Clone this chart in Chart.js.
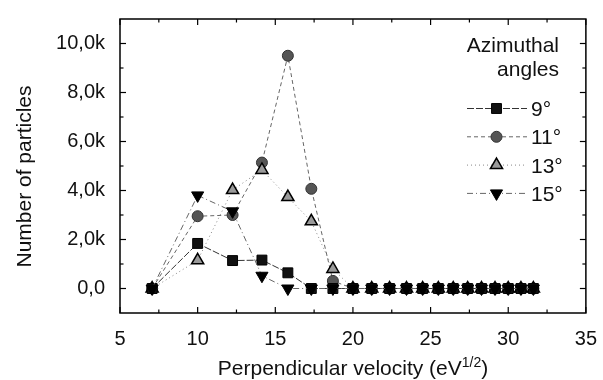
<!DOCTYPE html>
<html>
<head>
<meta charset="utf-8">
<script src="https://cdn.jsdelivr.net/npm/chart.js@4"></script>
<style>
  html, body { margin: 0; padding: 0; background: #fff; }
  #wrap { width: 603px; height: 380px; }
</style>
</head>
<body>
<div id="wrap"><canvas id="grafico" width="603" height="380"></canvas></div>
<script>
// Dados
const velocidades = [7.07, 10, 12.25, 14.14, 15.81, 17.32, 18.71, 20, 21.21, 22.36,
  23.45, 24.49, 25.5, 26.46, 27.39, 28.28, 29.15, 30, 30.82, 31.62];

const angulos = ['9°', '11°', '13°', '15°'];

const serie9  = [0, 1840, 1140, 1160, 640, 0, 0, 0, 0, 0, 0, 0, 0, 0, 0, 0, 0, 0, 0, 0];
const serie11 = [0, 2950, 3000, 5140, 9500, 4070, 310, 0, 0, 0, 0, 0, 0, 0, 0, 0, 0, 0, 0, 0];
const serie13 = [0, 1150, 4020, 4840, 3730, 2740, 800, 0, 0, 0, 0, 0, 0, 0, 0, 0, 0, 0, 0, 0];
const serie15 = [0, 3800, 3150, 520, 0, 0, 0, 0, 0, 0, 0, 0, 0, 0, 0, 0, 0, 0, 0, 0];

const xTicks = [5, 10, 15, 20, 25, 30, 35];
const yTicks = [0, 2000, 4000, 6000, 8000, 10000];
const yTickLabels = ['0,0', '2,0k', '4,0k', '6,0k', '8,0k', '10,0k'];

const FONTE = "'Liberation Sans', Arial, sans-serif";

function pontos(valores) {
  return valores.map((v, i) => ({ x: velocidades[i], y: v }));
}

// Moldura, marcas de escala, títulos e legenda
const molduraPlugin = {
  id: 'moldura',
  afterDraw(chart) {
    const ctx = chart.ctx;
    const a = chart.chartArea;
    const xs = chart.scales.x, ys = chart.scales.y;
    ctx.save();
    ctx.strokeStyle = '#000';
    ctx.lineWidth = 1.5;
    ctx.strokeRect(a.left, a.top, a.right - a.left, a.bottom - a.top);

    ctx.lineWidth = 1.2;
    const marca = (x1, y1, x2, y2) => { ctx.beginPath(); ctx.moveTo(x1, y1); ctx.lineTo(x2, y2); ctx.stroke(); };
    // eixo x: maiores e menores
    xTicks.forEach((v, i) => {
      const px = xs.getPixelForValue(v);
      marca(px, a.bottom, px, a.bottom - 6);
      marca(px, a.top, px, a.top + 6);
      if (i < xTicks.length - 1) {
        const pm = xs.getPixelForValue((v + xTicks[i + 1]) / 2);
        marca(pm, a.bottom, pm, a.bottom - 3.5);
        marca(pm, a.top, pm, a.top + 3.5);
      }
    });
    yTicks.forEach((v, i) => {
      const py = ys.getPixelForValue(v);
      marca(a.left, py, a.left + 6, py);
      marca(a.right, py, a.right - 6, py);
      if (i < yTicks.length - 1) {
        const pm = ys.getPixelForValue((v + yTicks[i + 1]) / 2);
        marca(a.left, pm, a.left + 3.5, pm);
        marca(a.right, pm, a.right - 3.5, pm);
      }
    });

    // título do eixo x com expoente
    ctx.fillStyle = '#111';
    ctx.textBaseline = 'alphabetic';
    const parte1 = 'Perpendicular velocity (eV';
    const sup = '1/2';
    const parte2 = ')';
    ctx.font = '21px ' + FONTE;
    const w1 = ctx.measureText(parte1).width;
    const w3 = ctx.measureText(parte2).width;
    ctx.font = '14px ' + FONTE;
    const w2 = ctx.measureText(sup).width;
    let x0 = 353 - (w1 + w2 + w3) / 2;
    const base = 375;
    ctx.font = '21px ' + FONTE;
    ctx.textAlign = 'left';
    ctx.fillText(parte1, x0, base);
    ctx.font = '14px ' + FONTE;
    ctx.fillText(sup, x0 + w1, base - 8);
    ctx.font = '21px ' + FONTE;
    ctx.fillText(parte2, x0 + w1 + w2, base);

    // título do eixo y
    ctx.save();
    ctx.translate(31, 176.5);
    ctx.rotate(-Math.PI / 2);
    ctx.textAlign = 'center';
    ctx.fillText('Number of particles', 0, 0);
    ctx.restore();

    // legenda
    ctx.textAlign = 'right';
    ctx.fillText('Azimuthal', 559, 51.5);
    ctx.fillText('angles', 559, 75.5);
    ctx.textAlign = 'left';
    chart.data.datasets.forEach((ds, i) => {
      const y = 108.5 + i * 28.3;
      ctx.save();
      ctx.strokeStyle = ds.borderColor;
      ctx.lineWidth = ds.borderWidth;
      ctx.setLineDash(ds.borderDash || []);
      marca(467, y, 527, y);
      ctx.restore();
      ctx.fillStyle = ds.pointBackgroundColor;
      ctx.strokeStyle = ds.pointBorderColor;
      ctx.lineWidth = ds.pointBorderWidth;
      Chart.helpers.drawPoint(ctx, {
        pointStyle: ds.pointStyle, rotation: ds.pointRotation || 0,
        radius: ds.pointRadius, borderWidth: ds.pointBorderWidth
      }, 496.5, y);
      ctx.fillStyle = '#111';
      ctx.fillText(ds.label, 531, y + 7.5);
    });
    ctx.restore();
  }
};

const ctx = document.getElementById('grafico').getContext('2d');
const config = {
  type: 'line',
  data: {
    datasets: [
      {
        label: angulos[0], data: pontos(serie9), order: 1,
        borderColor: '#333', borderWidth: 1, borderDash: [7, 2],
        pointStyle: 'rect', pointRadius: 7, pointBackgroundColor: '#111',
        pointBorderColor: '#000', pointBorderWidth: 1
      },
      {
        label: angulos[1], data: pontos(serie11), order: 3,
        borderColor: '#666', borderWidth: 1, borderDash: [4, 3],
        pointStyle: 'circle', pointRadius: 5.5, pointBackgroundColor: '#555',
        pointBorderColor: '#333', pointBorderWidth: 1
      },
      {
        label: angulos[2], data: pontos(serie13), order: 2,
        borderColor: '#888', borderWidth: 1, borderDash: [1, 3],
        pointStyle: 'triangle', pointRadius: 7, pointBackgroundColor: '#9a9a9a',
        pointBorderColor: '#000', pointBorderWidth: 1.5
      },
      {
        label: angulos[3], data: pontos(serie15), order: 0,
        borderColor: '#666', borderWidth: 1, borderDash: [6, 3, 1, 3],
        pointStyle: 'triangle', pointRotation: 180, pointRadius: 7, pointBackgroundColor: '#000',
        pointBorderColor: '#000', pointBorderWidth: 1
      }
    ]
  },
  options: {
    responsive: false,
    animation: false,
    layout: { padding: { top: 13, right: 13, left: 0, bottom: 0 } },
    elements: { line: { tension: 0 } },
    plugins: { legend: { display: false }, tooltip: { enabled: false } },
    scales: {
      x: {
        type: 'linear', min: 5, max: 35,
        afterBuildTicks: s => { s.ticks = xTicks.map(v => ({ value: v })); },
        afterFit: s => { s.height = 67; },
        grid: { display: false }, border: { display: false },
        ticks: {
          autoSkip: false, maxRotation: 0, padding: 6, color: '#111',
          font: { family: FONTE, size: 20 },
          callback: v => String(v)
        }
      },
      y: {
        type: 'linear', min: -1000, max: 11000,
        afterBuildTicks: s => { s.ticks = yTicks.map(v => ({ value: v })); },
        afterFit: s => { s.width = 120; },
        grid: { display: false }, border: { display: false },
        ticks: {
          autoSkip: false, padding: 7, color: '#111',
          font: { family: FONTE, size: 20 },
          callback: v => yTickLabels[yTicks.indexOf(v)]
        }
      }
    }
  },
  plugins: [molduraPlugin]
};

window.graficoParticulas = new Chart(ctx, config);
</script>
</body>
</html>
